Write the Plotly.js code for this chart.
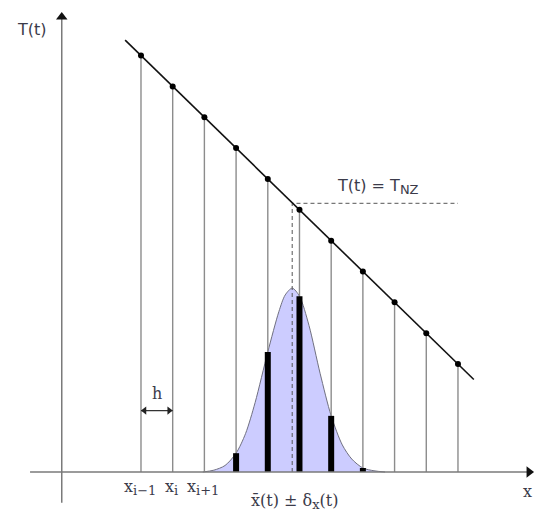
<!DOCTYPE html>
<html>
<head>
<meta charset="utf-8">
<script src="https://cdn.plot.ly/plotly-3.0.1.min.js"></script>
<style>html,body{margin:0;padding:0;background:#fff;}#chart{width:535px;height:514px;}</style>
</head>
<body>
<div id="chart"></div>
<script>
// ---- data ----
const nodeX = [2.5, 3.5, 4.5, 5.5, 6.5, 7.5, 8.5, 9.5, 10.5, 11.5, 12.5];
const nodeT = [13.5, 12.5, 11.5, 10.5, 9.5, 8.5, 7.5, 6.5, 5.5, 4.5, 3.5];
const lineX = [2.0, 13.0];
const lineY = [14.0, 3.0];
const curveX = [4.45, 4.8, 5.15, 5.5, 5.8, 6.1, 6.5, 6.85, 7.05, 7.27, 7.5, 7.8, 8.15, 8.5, 8.85, 9.15, 9.5, 9.85, 10.2];
const curveY = [0.0, 0.06, 0.21, 0.61, 1.25, 2.25, 3.89, 5.2, 5.74, 5.96, 5.70, 4.75, 3.2, 1.82, 0.88, 0.42, 0.13, 0.04, 0.0];
const barX = [5.5, 6.5, 7.5, 8.5, 9.5];
const barY = [0.61, 3.89, 5.70, 1.82, 0.13];
const meanX = 7.27;
const tNZ = 8.71;
const tickX = [2.5, 3.5, 4.5];
const tickMain = ['x', 'x', 'x'];
const tickSub = ['i−1', 'i', 'i+1'];
const meanLabel = ['x̄(t) ± δ', 'x', '(t)'];
const tnzLabel = ['T(t) = T', 'NZ'];

// ---- build segment arrays ----
function segs(xs, ys) {
  const X = [], Y = [];
  xs.forEach((x, i) => { X.push(x, x, null); Y.push(0, ys[i], null); });
  return {X, Y};
}
const grid = segs(nodeX, nodeT);
const bars = segs(barX, barY);
function sub(s, size) { return '<sub><span style="font-size:' + size + 'px">' + s + '</span></sub>'; }

const txtColor = '#3b3b4a';
const serif = 'DejaVu Serif, Liberation Serif, serif';
const sans = 'DejaVu Sans, sans-serif';
const pxX = 31.7, pxY = 30.85;

const traces = [
  {x: curveX, y: curveY, mode: 'lines', line: {color: '#707080', width: 1, shape: 'spline', smoothing: 0.8},
   fill: 'tozeroy', fillcolor: '#ccccff', hoverinfo: 'skip'},
  {x: grid.X, y: grid.Y, mode: 'lines', line: {color: '#8c8c8c', width: 1.4}, connectgaps: false, hoverinfo: 'skip'},
  {x: [meanX, meanX, nodeX[nodeX.length - 1]], y: [0, tNZ, tNZ], mode: 'lines',
   line: {color: '#555555', width: 1, dash: '4px,3px'}, hoverinfo: 'skip'},
  {x: bars.X, y: bars.Y, mode: 'lines', line: {color: '#000000', width: 6}, connectgaps: false, hoverinfo: 'skip'},
  {x: lineX, y: lineY, mode: 'lines', line: {color: '#111111', width: 1.6}, hoverinfo: 'skip'},
  {x: nodeX, y: nodeT, mode: 'markers', marker: {color: '#000000', size: 6}, hoverinfo: 'skip'},
  // axes
  {x: [-1.0, 14.8], y: [0, 0], mode: 'lines', line: {color: '#7a7a7a', width: 1.5}, hoverinfo: 'skip'},
  {x: [0, 0], y: [-1.0, 14.8], mode: 'lines', line: {color: '#7a7a7a', width: 1.5}, hoverinfo: 'skip'},
  {x: [14.9 - 5 / pxX], y: [0], mode: 'markers', marker: {symbol: 'triangle-right', size: 10, color: '#111'}, hoverinfo: 'skip'},
  {x: [0], y: [14.91 - 5 / pxY], mode: 'markers', marker: {symbol: 'triangle-up', size: 10, color: '#111'}, hoverinfo: 'skip'},
  // h double arrow
  {x: [nodeX[0], nodeX[1]], y: [1.99, 1.99], mode: 'lines', line: {color: '#333', width: 1.1}, hoverinfo: 'skip'},
  {x: [nodeX[0] + 3.5 / pxX, nodeX[1] - 3.5 / pxX], y: [1.99, 1.99], mode: 'markers',
   marker: {symbol: ['triangle-left', 'triangle-right'], size: 7, color: '#222'}, hoverinfo: 'skip'}
];

const annotations = [];
annotations.push({x: 3.0, y: 2.56, xref: 'x', yref: 'y', text: 'h', showarrow: false,
  font: {family: serif, size: 16, color: txtColor}});
tickX.forEach((x, i) => annotations.push({x: x - 0.03, y: -0.5, xref: 'x', yref: 'y',
  text: tickMain[i] + sub(tickSub[i], 13),
  showarrow: false, font: {family: serif, size: 16, color: txtColor}}));
annotations.push({x: 7.33, y: -0.96, xref: 'x', yref: 'y', text: meanLabel[0] + sub(meanLabel[1], 13) + meanLabel[2],
  showarrow: false, font: {family: serif, size: 16, color: txtColor}});
annotations.push({x: 14.7, y: -0.63, xref: 'x', yref: 'y', text: 'x', showarrow: false,
  font: {family: serif, size: 16, color: txtColor}});
annotations.push({x: -0.94, y: 14.36, xref: 'x', yref: 'y', text: 'T(t)', showarrow: false,
  font: {family: sans, size: 16, color: txtColor}});
annotations.push({x: 9.98, y: 9.25, xref: 'x', yref: 'y', text: tnzLabel[0] + sub(tnzLabel[1], 13), showarrow: false,
  font: {family: sans, size: 16, color: txtColor}});

const layout = {
  width: 535, height: 514,
  margin: {l: 0, r: 0, t: 0, b: 0},
  paper_bgcolor: '#ffffff', plot_bgcolor: '#ffffff',
  showlegend: false,
  xaxis: {range: [-1.948, 14.93], visible: false, fixedrange: true},
  yaxis: {range: [-1.361, 15.30], visible: false, fixedrange: true},
  annotations: annotations
};

Plotly.newPlot('chart', traces, layout, {staticPlot: true, displayModeBar: false});
</script>
</body>
</html>
